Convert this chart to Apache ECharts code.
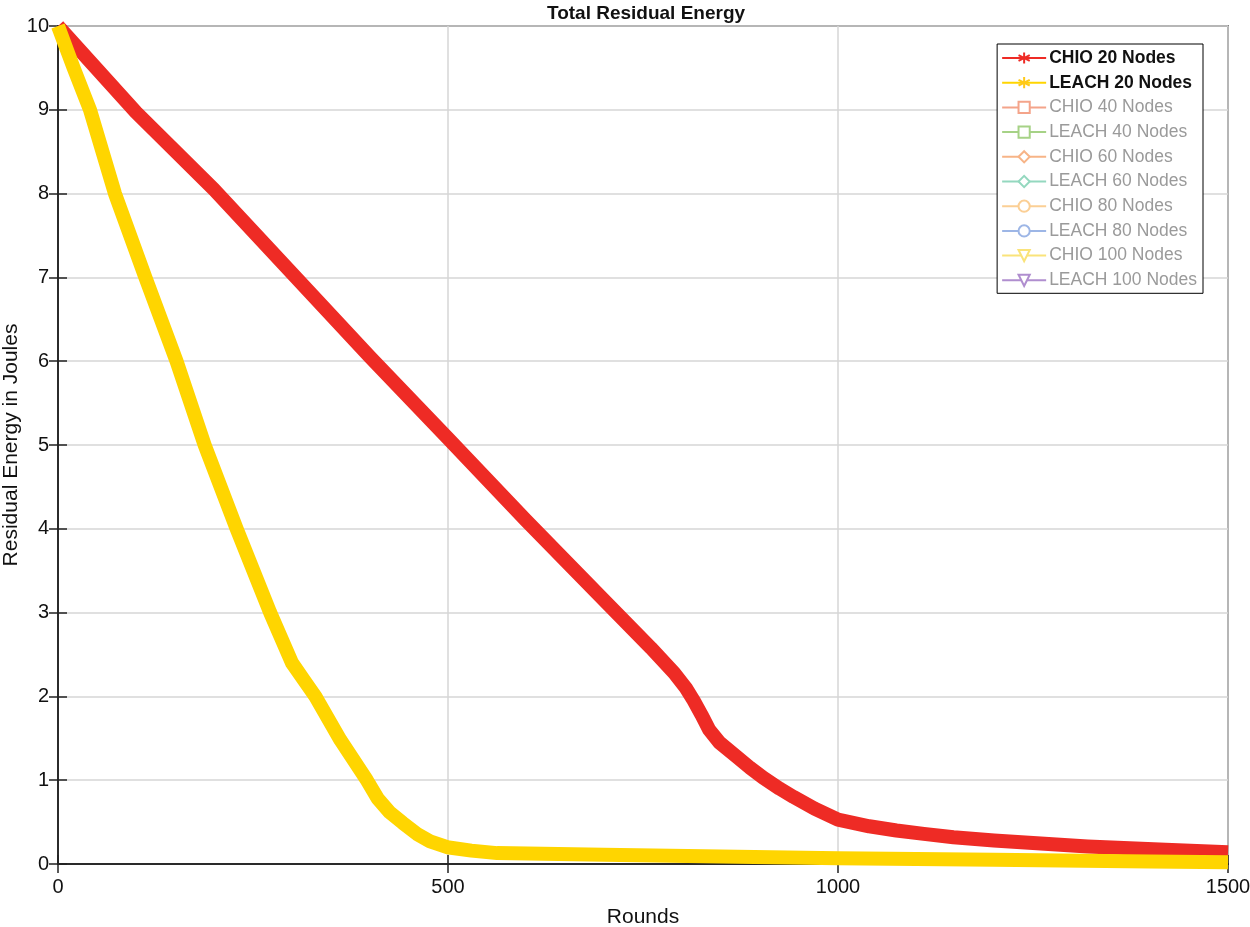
<!DOCTYPE html>
<html>
<head>
<meta charset="utf-8">
<script src="https://cdn.jsdelivr.net/npm/echarts@6/dist/echarts.min.js"></script>
<style>html,body{margin:0;padding:0;background:#fff}#c{width:1250px;height:927px}</style>
</head>
<body>
<div id="c"></div>
<script>
const titleText = "Total Residual Energy";
const xName = "Rounds";
const yName = "Residual Energy in Joules";
const xTicks = [0, 500, 1000, 1500];
const yTicks = [0,1,2,3,4,5,6,7,8,9,10];

const chio20Rounds = [0,100,200,300,400,500,600,700,760,790,805,815,825,835,848,870,887,904,925,943,970,1000,1040,1075,1110,1148,1200,1250,1320,1420,1500];
const chio20Energy = [10,8.97,8.05,7.05,6.05,5.08,4.1,3.15,2.58,2.28,2.1,1.95,1.78,1.6,1.45,1.28,1.15,1.03,0.9,0.8,0.66,0.53,0.45,0.4,0.36,0.32,0.28,0.25,0.21,0.17,0.14];

const leach20Rounds = [0,20,41,73,112,152,188,229,272,300,315,330,362,396,410,425,442,460,477,499,530,563,700,850,1000,1200,1400,1500];
const leach20Energy = [10,9.5,9,8,7,6,5,4,3,2.4,2.2,2.0,1.48,1.0,0.78,0.62,0.49,0.36,0.27,0.2,0.16,0.13,0.11,0.09,0.07,0.05,0.03,0.02];

const legendNames = ["CHIO 20 Nodes","LEACH 20 Nodes","CHIO 40 Nodes","LEACH 40 Nodes","CHIO 60 Nodes","LEACH 60 Nodes","CHIO 80 Nodes","LEACH 80 Nodes","CHIO 100 Nodes","LEACH 100 Nodes"];
const legendColors = ["#EE2B25","#FFC91A","#F4A48A","#A6D286","#F7B487","#94D8BF","#FBCF95","#9DB6E6","#FAE37A","#B08ECF"];
const ASTER = 'path://M0,-10L0,10M-8.66,-5L8.66,5M-8.66,5L8.66,-5';
const TRI_DOWN = 'path://M-10,-8L10,-8L0,9Z';
const legendSymbols = [ASTER, ASTER, 'rect','rect','diamond','diamond','circle','circle',TRI_DOWN,TRI_DOWN];

function pairs(xs, ys){ return xs.map((x,i)=>[x, ys[i]]); }

const seriesData = [pairs(chio20Rounds, chio20Energy), pairs(leach20Rounds, leach20Energy)];
const mainColors = ["#EE2B25", "#FFD500"];
const FONT = 'Arial';

const series = legendNames.map((name, i) => {
  const active = i < 2;
  return {
    name: name,
    type: 'line',
    xAxisIndex: 0, yAxisIndex: 0,
    data: active ? seriesData[i] : [],
    symbol: legendSymbols[i],
    symbolSize: 14,
    showSymbol: false,
    smooth: false,
    z: active ? (i === 1 ? 4 : 3) : 2,
    lineStyle: { color: active ? mainColors[i] : legendColors[i], width: active ? 14 : 1.5, cap: 'butt', join: 'round' },
    itemStyle: active
      ? { color: legendColors[i], borderColor: legendColors[i], borderWidth: 1.6 }
      : { color: '#fff', borderColor: legendColors[i], borderWidth: 1.4 },
    emphasis: { disabled: true },
    animation: false
  };
});

const chart = echarts.init(document.getElementById('c'));
chart.setOption({
  backgroundColor: '#fff',
  animation: false,
  title: {
    text: titleText, left: 641, top: -1, textAlign: 'center',
    textStyle: { fontFamily: FONT, fontWeight: 'bold', fontSize: 19, color: '#111' }
  },
  legend: {
    data: legendNames.map((n, i) => ({
      name: n,
      textStyle: i < 2 ? { color: '#111', fontWeight: 'bold' } : { color: '#9a9a9a', fontWeight: 'normal' }
    })),
    orient: 'vertical', right: 47, top: 44,
    itemWidth: 44, itemHeight: 14, itemGap: 6.7,
    padding: [5, 6, 4, 4],
    borderColor: '#000', borderWidth: 1, backgroundColor: '#fff',
    textStyle: { fontFamily: FONT, fontSize: 17.5, padding: [0,0,0,-2] },
    selectedMode: false
  },
  grid: { left: 58, right: 22, top: 26, bottom: 63, show: true, borderColor: '#222', borderWidth: 1.5, backgroundColor: 'transparent', outerBoundsMode: 'none', containLabel: false },
  xAxis: [{
    type: 'value', min: 0, max: 1500, interval: 500, position: 'bottom',
    name: xName, nameLocation: 'middle', nameGap: 43, nameMoveOverlap: false,
    nameTextStyle: { fontFamily: FONT, fontSize: 21, color: '#111' },
    axisLine: { show: true, lineStyle: { color: '#222', width: 1.5 } },
    axisTick: { show: true, inside: true, length: 9, lineStyle: { color: '#222', width: 1.5 } },
    axisLabel: { fontFamily: FONT, fontSize: 20, color: '#111', margin: 13, formatter: v => String(v), showMaxLabel: true, showMinLabel: true },
    splitLine: { show: true, lineStyle: { color: '#d6d6d6', width: 1.5 } }
  }, {
    type: 'value', min: 0, max: 1500, interval: 500, position: 'top',
    axisLine: { show: true, lineStyle: { color: '#222', width: 1.5 } },
    axisTick: { show: true, inside: true, length: 9, lineStyle: { color: '#222', width: 1.5 } },
    axisLabel: { show: false }, splitLine: { show: false }
  }],
  yAxis: [{
    type: 'value', min: 0, max: 10, interval: 1, position: 'left',
    name: yName, nameLocation: 'middle', nameGap: 36, nameRotate: 90, nameMoveOverlap: false,
    nameTextStyle: { fontFamily: FONT, fontSize: 21, color: '#111' },
    axisLine: { show: true, lineStyle: { color: '#222', width: 1.5 } },
    axisTick: { show: true, inside: true, length: 9, lineStyle: { color: '#222', width: 1.5 } },
    axisLabel: { fontFamily: FONT, fontSize: 20, color: '#111', margin: 9, formatter: v => String(v) },
    splitLine: { show: true, lineStyle: { color: '#d6d6d6', width: 1.5 } }
  }, {
    type: 'value', min: 0, max: 10, interval: 1, position: 'right',
    axisLine: { show: true, lineStyle: { color: '#222', width: 1.5 } },
    axisTick: { show: true, inside: true, length: 9, lineStyle: { color: '#222', width: 1.5 } },
    axisLabel: { show: false }, splitLine: { show: false }
  }],
  series: series
});
</script>
</body>
</html>
